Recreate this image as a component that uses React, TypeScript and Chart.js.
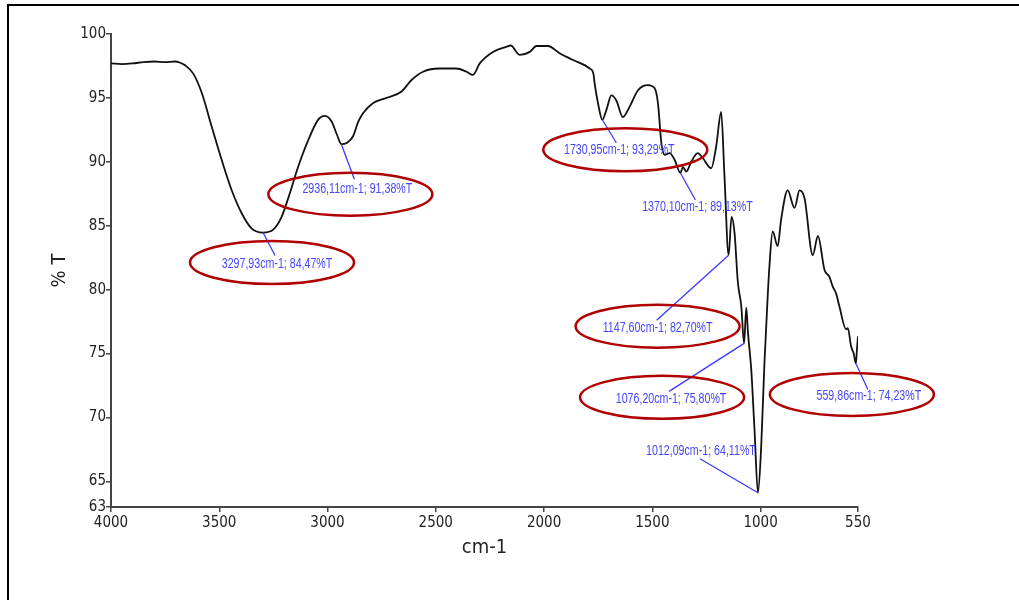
import React, { useEffect, useRef } from "react";
import { Chart, registerables } from "chart.js";

Chart.register(...registerables);

// Spectrum: wavenumber (cm-1) and transmittance (%T)
const wavenumbers = [
  4000, 3950, 3900, 3850, 3800, 3750, 3705, 3680, 3658, 3620, 3581, 3535, 3489, 3443, 3397, 3351,
  3297.93, 3251, 3212, 3174, 3136, 3089, 3043, 3012, 2981, 2956, 2936.11, 2910, 2882, 2859, 2836,
  2789, 2728, 2658, 2612, 2559, 2482, 2405, 2358, 2328, 2297, 2236, 2174, 2154, 2112, 2066, 2035,
  1982, 1928, 1866, 1789, 1772, 1766, 1751, 1730.95, 1712, 1689, 1666, 1636, 1605, 1566, 1520,
  1489, 1474, 1458, 1443, 1420, 1397, 1370.1, 1359, 1343, 1320, 1290, 1267, 1228, 1205, 1182,
  1167, 1147.6, 1134, 1120, 1105, 1089, 1076.2, 1066, 1058, 1043, 1028, 1012.09, 997, 982, 967,
  960, 944, 921, 905, 875, 843, 820, 797, 759, 735, 705, 682, 667, 651, 636, 605, 597, 582, 570,
  559.86, 555, 550,
];
const transmittance = [
  97.7, 97.65, 97.7, 97.8, 97.85, 97.8, 97.85, 97.75, 97.55, 96.9, 95.4, 92.76, 90.16, 87.8, 86.0, 84.8,
  84.47, 84.7, 85.7, 87.55, 89.6, 91.7, 93.3, 93.6, 93.15, 92.1, 91.38, 91.5, 92.0, 93.1, 93.8,
  94.6, 95.0, 95.5, 96.4, 97.05, 97.3, 97.3, 97.05, 96.8, 97.7, 98.6, 99.0, 99.1, 98.36, 98.6, 99.06,
  99.06, 98.5, 97.97, 97.3, 96.9, 96.1, 94.6, 93.29, 94.06, 95.2, 94.8, 93.5, 94.3, 95.6, 96.0,
  95.75, 94.6, 91.46, 90.55, 90.68, 90.16, 89.13, 89.6, 89.24, 90.0, 90.68, 90.3, 89.5, 91.2, 93.9,
  89.0, 82.7, 85.7, 84.4, 80.6, 78.7, 75.8, 78.6, 76.6, 73.75, 69.06, 64.11, 67.76, 74.3, 79.5,
  81.6, 84.55, 83.4, 85.5, 87.76, 86.4, 87.76, 87.16, 82.7, 84.2, 81.56, 81.0, 80.26, 79.7, 78.7, 76.9,
  77.0, 75.57, 75.0, 74.23, 75.3, 76.35,
];

// Axis ticks
const xTicks = [4000, 3500, 3000, 2500, 2000, 1500, 1000, 550];
const yTicks = [63, 65, 70, 75, 80, 85, 90, 95, 100];

// Annotated peaks
const peakWavenumbers = [3297.93, 2936.11, 1730.95, 1370.1, 1147.6, 1076.2, 1012.09, 559.86];
const peakTransmittance = [84.47, 91.38, 93.29, 89.13, 82.7, 75.8, 64.11, 74.23];
const peakCircled = [true, true, true, false, true, true, false, true];

// Label placement (pixel offsets from the peak point) — styling only
const lineEndOffsets = [[12, 23], [13, 35], [14, 23], [15, 27], [-72, 65], [-75, 48], [-58, -34], [12, 26]];
const labelOffsets = [[14, 32], [16, 45], [17, 30], [17, 34], [-71, 73], [-73, 56], [-57, -42], [13, 33]];
const ellipseOffsets = [[-5, -2], [-7, 5], [6, 0], [0, 0], [0, -2], [-9, -2], [0, 0], [-17, -2]];

const FONT = "'Liberation Sans Narrow', 'DejaVu Sans Condensed', 'Liberation Sans', Arial, sans-serif";
const LABEL_FONT = "'Liberation Sans', Arial, sans-serif";

const fmt = (v: number) => v.toFixed(2).replace(".", ",");

const peakPlugin = {
  id: "peakLabels",
  afterDatasetsDraw(chart: any) {
    const { ctx, scales } = chart;
    const xs = scales.x;
    const ys = scales.y;
    ctx.save();
    peakWavenumbers.forEach((w, i) => {
      const px = xs.getPixelForValue(w);
      const py = ys.getPixelForValue(peakTransmittance[i]);
      const [ex, ey] = lineEndOffsets[i];
      const [lx, ly] = labelOffsets[i];
      ctx.strokeStyle = "#3b3bff";
      ctx.lineWidth = 1.3;
      ctx.beginPath();
      ctx.moveTo(px, py);
      ctx.lineTo(px + ex, py + ey);
      ctx.stroke();
      // condensed label text
      ctx.save();
      ctx.translate(px + lx, py + ly);
      ctx.scale(0.76, 1);
      ctx.fillStyle = "#4646ff";
      ctx.font = `14px ${LABEL_FONT}`;
      ctx.textAlign = "center";
      ctx.textBaseline = "middle";
      ctx.fillText(`${fmt(w)}cm-1; ${fmt(peakTransmittance[i])}%T`, 0, 0);
      ctx.restore();
      if (peakCircled[i]) {
        const [cx, cy] = ellipseOffsets[i];
        ctx.strokeStyle = "#b00000";
        ctx.lineWidth = 2.5;
        ctx.beginPath();
        ctx.ellipse(px + lx + cx, py + ly + cy, 82, 21.5, 0, 0, Math.PI * 2);
        ctx.stroke();
      }
    });
    ctx.restore();
  },
};

export default function App() {
  const canvasRef = useRef<HTMLCanvasElement | null>(null);

  useEffect(() => {
    const canvas = canvasRef.current;
    if (!canvas) return;
    const chart = new Chart(canvas, {
      type: "line",
      data: {
        datasets: [
          {
            label: "%T",
            data: wavenumbers.map((w, i) => ({ x: w, y: transmittance[i] })),
            borderColor: "#111",
            borderWidth: 1.8,
            pointRadius: 0,
            cubicInterpolationMode: "monotone",
            fill: false,
          },
        ],
      },
      options: {
        responsive: false,
        animation: false,
        layout: { padding: { left: 0, top: 34, right: 161, bottom: 0 } },
        plugins: { legend: { display: false }, tooltip: { enabled: false } },
        scales: {
          x: {
            type: "linear",
            reverse: true,
            min: 550,
            max: 4000,
            afterBuildTicks: (s: any) => {
              s.ticks = xTicks.map((v) => ({ value: v }));
            },
            afterFit: (s: any) => {
              s.height = 93;
            },
            ticks: {
              callback: (v: any) => String(v),
              font: { family: FONT, size: 15 },
              color: "#222",
              padding: 2,
              maxRotation: 0,
              autoSkip: false,
            },
            grid: { drawOnChartArea: false, drawTicks: true, tickLength: 5, color: "#444", lineWidth: 1.5 },
            border: { display: true, color: "#444", width: 2 },
            title: {
              display: true,
              text: "cm-1",
              font: { family: FONT, size: 20 },
              color: "#222",
              padding: { top: 0, bottom: 40 },
            },
          },
          y: {
            type: "linear",
            min: 63,
            max: 100,
            afterBuildTicks: (s: any) => {
              s.ticks = yTicks.map((v) => ({ value: v }));
            },
            afterFit: (s: any) => {
              s.width = 111;
            },
            ticks: {
              callback: (v: any) => String(v),
              font: { family: FONT, size: 15 },
              color: "#222",
              padding: 0,
              autoSkip: false,
            },
            grid: { drawOnChartArea: false, drawTicks: true, tickLength: 5, color: "#444", lineWidth: 1.5 },
            border: { display: true, color: "#444", width: 2 },
            title: {
              display: true,
              text: "% T",
              font: { family: FONT, size: 20 },
              color: "#222",
              padding: { top: 48, bottom: 0 },
            },
          },
        },
      },
      plugins: [peakPlugin],
    } as any);
    return () => chart.destroy();
  }, []);

  return (
    <div>
      <div
        style={{
          position: "absolute",
          left: 7,
          top: 4,
          width: 1100,
          height: 700,
          borderLeft: "2px solid #000",
          borderTop: "2px solid #000",
          boxSizing: "border-box",
        }}
      />
      <canvas
        ref={canvasRef}
        width={1019}
        height={600}
        style={{ position: "absolute", left: 0, top: 0, display: "block" }}
      />
    </div>
  );
}
